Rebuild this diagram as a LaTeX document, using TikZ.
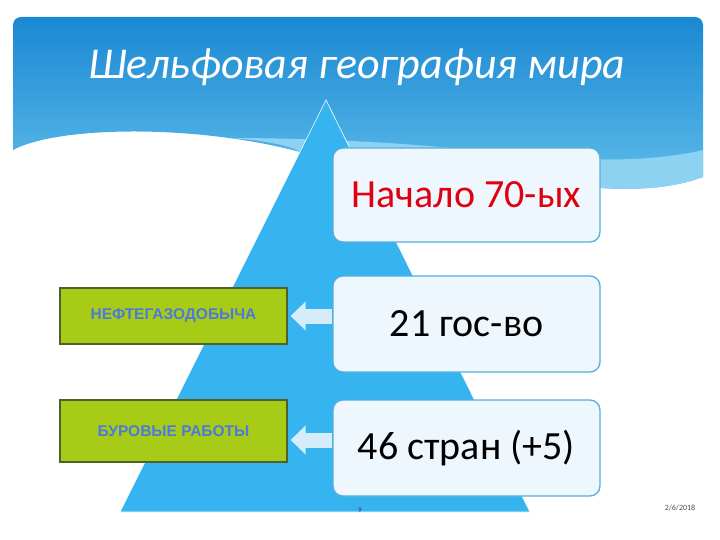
\documentclass[tikz,border=0pt]{standalone}
\usepackage{fontspec}
\setmainfont{Carlito}
\newfontfamily\arialfont{Liberation Sans}
\usetikzlibrary{arrows.meta,positioning,calc}
\definecolor{skytop}{HTML}{1A88D2}
\definecolor{skybot}{HTML}{63C0EC}
\definecolor{skylight}{HTML}{8ED2F2}
\definecolor{pyrblue}{HTML}{35B4F0}
\definecolor{stepfill}{HTML}{EEF7FD}
\definecolor{stepline}{HTML}{55AEDC}
\definecolor{leafgreen}{HTML}{A7CB16}
\definecolor{leafline}{HTML}{4E6128}
\definecolor{titlered}{HTML}{E0000F}
\definecolor{capblue}{HTML}{4C7ADC}
\definecolor{arrfill}{HTML}{D5EDFA}

\begin{document}
\begin{tikzpicture}[x=1pt,y=-1pt,
      stepbox/.style={draw=stepline, line width=1.3pt, fill=stepfill, rounded corners=10pt,
                      minimum width=267pt, align=center, font=\fontsize{40}{44}\selectfont},
      act/.style={draw=leafline, line width=1.2pt, fill=leafgreen, minimum width=227pt,
                  align=center, text=capblue, font=\arialfont\bfseries\fontsize{15.5}{17}\selectfont},
      blockarr/.style={draw=arrfill, line width=15pt, -{Triangle[length=15pt,width=28pt]}}]
    \useasboundingbox (0,0) rectangle (720,540);
    \fill[white] (0,0) rectangle (720,540);
    % header sky
    \shade[top color=skytop, bottom color=skybot]
      (13,150) -- (13,25) arc[start angle=180,end angle=270,radius=8] -- (695,17)
      arc[start angle=270,end angle=360,radius=8] -- (703,177)
      .. controls (640,200) and (560,185) .. (470,170)
      .. controls (400,160) and (330,150) .. (300,152)
      .. controls (200,125) and (60,125) .. cycle;
    \fill[skylight] (703,150) .. controls (640,165) and (560,160) .. (470,150)
      .. controls (400,142) and (300,138) .. (230,138)
      .. controls (260,140) and (290,145) .. (300,152)
      .. controls (330,150) and (400,160) .. (470,170)
      .. controls (560,185) and (640,200) .. (703,177) -- cycle;
    \node[text=white, font=\itshape\fontsize{44}{48}\selectfont] (title) at (357,67)
      {Шельфовая география мира};
    % pyramid
    \fill[pyrblue, draw=white, line width=0.6pt] (326,100) -- (530,512) -- (120,512) -- cycle;
    \node[stepbox, minimum height=94pt, text=titlered] (b1) at (466.5,195) {Начало 70-ых};
    \node[stepbox, minimum height=96pt] (b2) at (466.5,324) {21 гос-во};
    \node[stepbox, minimum height=96pt] (b3) at (466.5,448) {46 стран (+5)};
    \node[act, minimum height=56pt] (g1) at (173.5,316) {НЕФТЕГАЗОДОБЫЧА};
    \node[act, minimum height=62pt] (g2) at (173.5,431) {БУРОВЫЕ РАБОТЫ};
    \draw[blockarr] (b2.west |- g1.east) -- ([xshift=3pt]g1.east);
    \draw[blockarr] ([yshift=8pt]b3.west) -- ([xshift=3pt,yshift=8pt]b3.west -| g2.east);
    \node[text=leafline!60!blue, font=\fontsize{7}{8}\selectfont] (pg) at (360,510) {9};
    \node[text=black!70, font=\fontsize{8}{9}\selectfont] (dt) at (680,508) {2/6/2018};
  \end{tikzpicture}
\end{document}
